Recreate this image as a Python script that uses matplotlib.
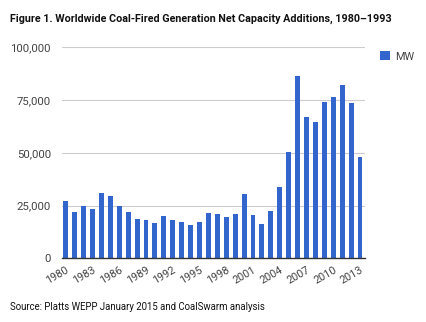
import matplotlib
matplotlib.use("Agg")
import matplotlib.pyplot as plt

years = list(range(1980, 2014))
mw = [27000, 21800, 25000, 23400, 31000, 29700, 25000, 21800, 18600, 18200,
      16600, 19900, 18300, 17100, 15600, 17400, 21600, 20900, 19400, 20900,
      30500, 20400, 16400, 22600, 34000, 50600, 86400, 66800, 64600, 74200,
      76500, 82100, 73800, 47900]
yticks = [0, 25000, 50000, 75000, 100000]
ytick_labels = ["0", "25,000", "50,000", "75,000", "100,000"]
title = "Figure 1. Worldwide Coal-Fired Generation Net Capacity Additions, 1980\u20131993"
source = "Source: Platts WEPP January 2015 and CoalSwarm analysis"

fig = plt.figure(figsize=(4.26, 3.22), dpi=100)
ax = fig.add_axes([62 / 426, 1 - 258.3 / 322, 303 / 426, (258.3 - 47.3) / 322])

x = list(range(len(years)))
ax.bar(x, mw, width=0.55, color="#3366CC", zorder=3, label="MW")

ax.set_ylim(0, 100000)
ax.set_xlim(-0.42, len(years) - 1 + 0.56)
ax.set_yticks(yticks)
ax.set_yticklabels(ytick_labels, fontsize=8.2, color="#444444", family="Roboto")
ax.yaxis.grid(True, color="#cccccc", linewidth=0.8, zorder=0)
ax.tick_params(axis="y", length=0, pad=8)
ax.tick_params(axis="x", length=0, pad=5)
for s in ["top", "right", "left"]:
    ax.spines[s].set_visible(False)
ax.spines["bottom"].set_color("#333333")
ax.spines["bottom"].set_linewidth(1.0)
ax.spines["bottom"].set_zorder(4)

tick_idx = list(range(0, len(years), 3))
ax.set_xticks(tick_idx)
ax.set_xticklabels([str(years[i]) for i in tick_idx], rotation=30, ha="right",
                   rotation_mode="anchor", fontsize=7.8, color="#444444", family="Roboto")

fig.text(10 / 426, 1 - 19 / 322, title, fontsize=7.75, fontweight="bold",
         family="Roboto", color="#111111", va="center", ha="left")
fig.text(10 / 426, 1 - 307 / 322, source, fontsize=6.9, family="Roboto",
         color="#111111", va="center", ha="left")

leg = fig.legend(loc="upper left", bbox_to_anchor=(375 / 426, 1 - 46 / 322),
                 frameon=False, handlelength=0.9, handleheight=0.9,
                 handletextpad=0.5, borderpad=0, prop={"family": "Roboto", "size": 7.8})
for t in leg.get_texts():
    t.set_color("#444444")

fig.savefig("out.png", dpi=100, facecolor="white")
